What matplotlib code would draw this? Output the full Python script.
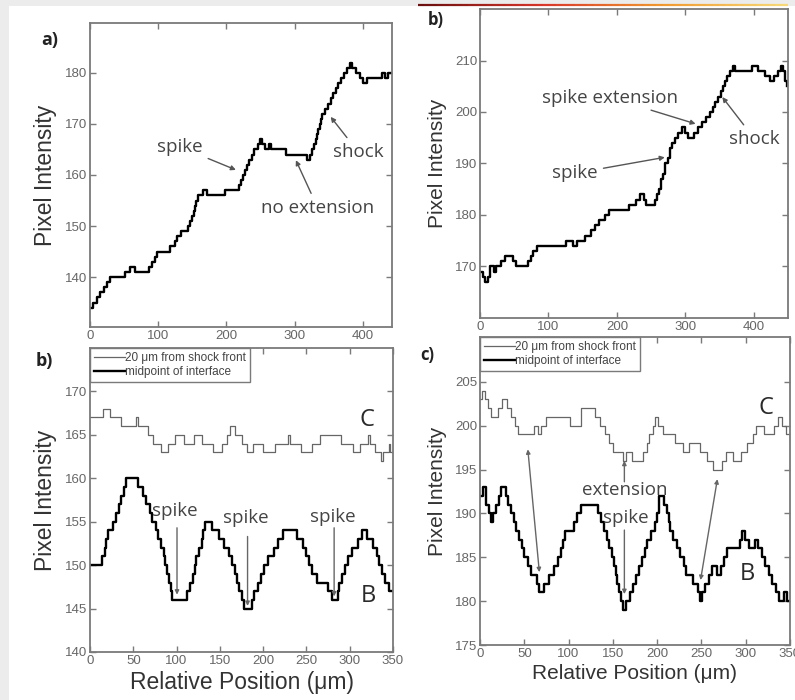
import numpy as np
import matplotlib
matplotlib.use("Agg")
from matplotlib import pyplot as plt
from matplotlib.patches import Rectangle
from matplotlib.collections import LineCollection
from matplotlib.colors import LinearSegmentedColormap

# ---- data ----
# a) profile without extension
a_x = [0, 5, 10, 15, 20, 25, 29, 51, 58, 66, 87, 91, 95, 99, 117, 124, 128, 134,
       144, 147, 150, 152, 154, 156, 158, 166, 172, 198, 218, 221, 224, 227, 230,
       233, 237, 241, 246, 250, 253, 257, 262, 266, 287, 318, 323, 326, 329, 331,
       333, 335, 337, 339, 341, 345, 349, 353, 357, 361, 364, 368, 372, 377, 381,
       385, 390, 396, 401, 406, 428, 433, 437, 441]
a_y = [134, 135, 136, 137, 138, 139, 140, 141, 142, 141, 142, 143, 144, 145, 146,
       147, 148, 149, 150, 151, 152, 153, 154, 155, 156, 157, 156, 157, 158, 159,
       160, 161, 162, 163, 164, 165, 166, 167, 166, 165, 166, 165, 164, 163, 164,
       165, 166, 167, 168, 169, 170, 171, 172, 173, 174, 175, 176, 177, 178, 179,
       180, 181, 182, 181, 180, 179, 178, 179, 180, 179, 180, 180]

# b) profile with spike extension
b_x = [0, 4, 7, 11, 14, 20, 24, 30, 36, 48, 52, 70, 74, 78, 84, 125, 136, 142,
       154, 162, 168, 174, 182, 188, 218, 228, 234, 239, 243, 255, 259, 262, 265,
       268, 271, 274, 277, 280, 285, 290, 295, 300, 304, 312, 318, 324, 330, 336,
       340, 344, 348, 352, 355, 358, 361, 365, 369, 373, 398, 406, 416, 423, 430,
       435, 440, 443, 446, 448]
b_y = [169, 168, 167, 168, 170, 169, 170, 171, 172, 171, 170, 171, 172, 173, 174,
       175, 174, 175, 176, 177, 178, 179, 180, 181, 182, 183, 184, 183, 182, 183,
       184, 185, 187, 188, 190, 191, 193, 194, 195, 196, 197, 196, 195, 196, 197,
       198, 199, 200, 201, 202, 203, 204, 205, 206, 207, 208, 209, 208, 209, 208,
       207, 206, 207, 208, 209, 208, 206, 205]

# b) lower: C = 20 um from shock front, B = midpoint of interface
lc_x = [0, 15, 23, 36, 53, 56, 67, 73, 82, 90, 98, 109, 120, 129, 142, 152, 158,
        162, 168, 175, 181, 188, 200, 214, 229, 231, 244, 256, 266, 290, 304, 312,
        321, 323, 329, 336, 338, 345, 347, 350]
lc_y = [167, 168, 167, 166, 167, 166, 165, 164, 163, 164, 165, 164, 165, 164, 163,
        164, 165, 166, 165, 164, 163, 164, 163, 164, 165, 164, 163, 164, 165, 164,
        163, 164, 165, 164, 163, 162, 163, 164, 163, 163]
lb_x = [0, 14, 17, 19, 21, 26, 30, 33, 36, 39, 42, 56, 61, 65, 69, 72, 76, 79, 82,
        85, 87, 89, 91, 93, 95, 112, 116, 119, 121, 123, 126, 129, 131, 133, 141,
        149, 155, 160, 164, 167, 170, 172, 175, 178, 187, 190, 194, 198, 201, 206,
        212, 217, 223, 239, 246, 250, 253, 257, 262, 275, 279, 286, 288, 291, 294,
        298, 303, 309, 314, 320, 327, 331, 334, 337, 341, 345, 350]
lb_y = [150, 151, 152, 153, 154, 155, 156, 157, 158, 159, 160, 159, 158, 157, 156,
        155, 154, 153, 152, 151, 150, 149, 148, 147, 146, 147, 148, 149, 150, 151,
        152, 153, 154, 155, 154, 153, 152, 151, 150, 149, 148, 147, 146, 145, 146,
        147, 148, 149, 150, 151, 152, 153, 154, 153, 152, 151, 150, 149, 148, 147,
        146, 147, 148, 149, 150, 151, 152, 153, 154, 153, 152, 151, 150, 149, 148,
        147, 147]

# c) lower right
rc_x = [0, 2, 6, 9, 12, 20, 25, 30, 35, 39, 43, 61, 65, 69, 75, 102, 114, 130,
        136, 141, 146, 150, 161, 165, 172, 184, 188, 191, 195, 198, 201, 207, 220,
        229, 236, 248, 256, 263, 273, 278, 286, 295, 302, 308, 312, 321, 332, 336,
        341, 346, 350]
rc_y = [203, 204, 203, 202, 201, 202, 203, 202, 201, 200, 199, 200, 199, 200, 201,
        200, 202, 201, 200, 199, 198, 197, 196, 197, 196, 197, 198, 199, 200, 201,
        200, 199, 198, 197, 198, 197, 196, 195, 196, 197, 196, 197, 198, 199, 200,
        199, 200, 201, 200, 199, 198]
rb_x = [0, 3, 7, 10, 12, 15, 18, 21, 24, 29, 32, 35, 38, 41, 44, 47, 50, 54, 58,
        64, 67, 72, 78, 84, 88, 91, 94, 96, 106, 109, 114, 133, 137, 140, 143, 146,
        149, 151, 153, 155, 157, 159, 162, 165, 169, 173, 176, 180, 183, 186, 189,
        193, 198, 200, 202, 208, 211, 213, 215, 218, 222, 226, 230, 233, 240, 246,
        248, 251, 254, 258, 262, 268, 272, 276, 279, 294, 296, 299, 304, 310, 314,
        318, 322, 326, 330, 334, 338, 343, 347, 350]
rb_y = [192, 193, 191, 190, 189, 190, 191, 192, 193, 192, 191, 190, 189, 188, 187,
        186, 185, 184, 183, 182, 181, 182, 183, 184, 185, 186, 187, 188, 189, 190,
        191, 190, 189, 188, 187, 186, 185, 184, 183, 182, 181, 180, 179, 180, 181,
        182, 183, 184, 185, 186, 187, 188, 189, 190, 192, 191, 190, 189, 188, 187,
        186, 185, 184, 183, 182, 181, 180, 181, 182, 183, 184, 183, 184, 185, 186,
        187, 188, 187, 186, 187, 186, 185, 184, 183, 182, 181, 180, 181, 180, 180]

legend_labels = ["20 \u03bcm from shock front", "midpoint of interface"]

# ---- style ----
LABEL_FONT = "Liberation Sans"
NOTE_FONT = "Open Sans"
GRAY = "#7a7a7a"
NOTE = "#444444"

fig = plt.figure(figsize=(7.95, 7.0), dpi=100, facecolor="#ececec")
fig.add_artist(Rectangle((9 / 795, 0), 1, 1 - 6 / 700, transform=fig.transFigure,
                         facecolor="white", edgecolor="none", zorder=-10))

# thin coloured strip at the top (scan artifact of the source)
gx = np.linspace(418 / 795, 788 / 795, 60)
gy = np.full_like(gx, 1 - 5 / 700)
pts = np.array([gx, gy]).T.reshape(-1, 1, 2)
segs = np.concatenate([pts[:-1], pts[1:]], axis=1)
cmap = LinearSegmentedColormap.from_list("strip", ["#6b1010", "#d8352a", "#f09a30", "#f6d878"])
strip = LineCollection(segs, colors=cmap(np.linspace(0, 1, len(segs))), linewidths=1.6,
                       transform=fig.transFigure)
fig.add_artist(strip)


def setup_axes(rect, xlim, ylim, xticks, yticks, label_size=15.5, xlabel=None):
    ax = fig.add_axes(rect)
    ax.set_xlim(*xlim)
    ax.set_ylim(*ylim)
    ax.set_xticks(xticks)
    ax.set_yticks(yticks)
    for sp in ax.spines.values():
        sp.set_color(GRAY)
        sp.set_linewidth(1.3)
    ax.tick_params(direction="in", length=4, width=1, color=GRAY, top=True, right=True,
                   labelsize=9.5, labelcolor="#666666", pad=2)
    for lab in ax.get_xticklabels() + ax.get_yticklabels():
        lab.set_family(LABEL_FONT)
    ax.set_ylabel("Pixel Intensity", fontsize=label_size, family=LABEL_FONT,
                  color="#333333", labelpad=6)
    if xlabel:
        ax.set_xlabel(xlabel, fontsize=label_size, family=LABEL_FONT, color="#333333",
                      labelpad=3)
    return ax


def note(ax, text, xytext, xy=None, both=False, size=13.5, color=NOTE):
    if xy is None:
        ax.text(*xytext, text, ha="center", va="center", fontsize=size,
                family=NOTE_FONT, color=color)
        return
    ax.annotate(text, xy=xy, xytext=xytext, ha="center", va="center", fontsize=size,
                family=NOTE_FONT, color=color,
                arrowprops=dict(arrowstyle="<|-|>" if both else "-|>", color="#555555",
                                lw=1.0, mutation_scale=7, shrinkA=2, shrinkB=0))


def arrow(ax, start, end, both=False):
    ax.annotate("", xy=end, xytext=start,
                arrowprops=dict(arrowstyle="<|-|>" if both else "-|>", color="#666666",
                                lw=1.0, mutation_scale=6, shrinkA=0, shrinkB=0))


# a) top left
ax1 = setup_axes([90 / 795, 1 - 327 / 700, 302 / 795, 304 / 700], (0, 443), (130.2, 189.8),
                 [0, 100, 200, 300, 400], [140, 150, 160, 170, 180], label_size=16.5)
ax1.plot(a_x, a_y, drawstyle="steps-post", color="black", lw=1.7)
note(ax1, "spike", (132, 165.5), (214, 161))
note(ax1, "no extension", (334, 153.6), (302, 162.9))
note(ax1, "shock", (393, 164.6), (353, 171.4))
fig.text(50 / 795, 1 - 40 / 700, "a)", fontsize=13, weight="bold", family=NOTE_FONT,
         color="#222222", ha="center", va="center")

# b) top right
ax2 = setup_axes([480 / 795, 1 - 318 / 700, 308 / 795, 309 / 700], (0, 450), (160, 220),
                 [0, 100, 200, 300, 400], [170, 180, 190, 200, 210], label_size=15)
ax2.plot(b_x, b_y, drawstyle="steps-post", color="black", lw=1.7)
note(ax2, "spike extension", (190, 202.8), (315, 197.7))
note(ax2, "spike", (139, 188.1), (270, 191.2))
note(ax2, "shock", (401, 194.8), (354, 202.9))
fig.text(436 / 795, 1 - 20 / 700, "b)", fontsize=12, weight="bold", family=NOTE_FONT,
         color="#222222", ha="center", va="center")

# b) bottom left
ax3 = setup_axes([90 / 795, 1 - 652 / 700, 303 / 795, 304 / 700], (0, 350), (140, 175),
                 [0, 50, 100, 150, 200, 250, 300, 350], [140, 145, 150, 155, 160, 165, 170],
                 label_size=16.5, xlabel="Relative Position (\u03bcm)")
ax3.plot(lc_x, lc_y, drawstyle="steps-post", color="#666666", lw=0.9, label=legend_labels[0])
ax3.plot(lb_x, lb_y, drawstyle="steps-post", color="black", lw=1.7, label=legend_labels[1])
for tx, ty, lx, ltop, lbot in [(97.5, 156.2, 100.5, 154.3, 146.6),
                               (180, 155.4, 182, 153.3, 145.3),
                               (280, 155.6, 282, 154.3, 146.4)]:
    note(ax3, "spike", (tx, ty))
    arrow(ax3, (lx, ltop), (lx, lbot))
note(ax3, "C", (320, 166.7), size=17, color="#2a2a2a")
note(ax3, "B", (322, 146.4), size=17, color="#2a2a2a")
fig.text(44 / 795, 1 - 361 / 700, "b)", fontsize=13, weight="bold", family=NOTE_FONT,
         color="#222222", ha="center", va="center")

# c) bottom right
ax4 = setup_axes([480 / 795, 1 - 645 / 700, 310 / 795, 308 / 700], (0, 350), (175, 210.1),
                 [0, 50, 100, 150, 200, 250, 300, 350], [175, 180, 185, 190, 195, 200, 205],
                 label_size=15, xlabel="Relative Position (\u03bcm)")
ax4.plot(rc_x, rc_y, drawstyle="steps-post", color="#666666", lw=0.9, label=legend_labels[0])
ax4.plot(rb_x, rb_y, drawstyle="steps-post", color="black", lw=1.7, label=legend_labels[1])
arrow(ax4, (54, 197.3), (67, 183.3), both=True)
arrow(ax4, (163, 193.6), (163, 196.0))
arrow(ax4, (163, 188.1), (163, 180.8))
arrow(ax4, (268, 193.9), (249, 182.4), both=True)
note(ax4, "extension", (163, 192.7))
note(ax4, "spike", (165, 189.5))
note(ax4, "C", (322.5, 202.0), size=17, color="#2a2a2a")
note(ax4, "B", (302, 183.1), size=17, color="#2a2a2a")
fig.text(427 / 795, 1 - 355 / 700, "c)", fontsize=12, weight="bold", family=NOTE_FONT,
         color="#222222", ha="center", va="center")

for ax in (ax3, ax4):
    leg = ax.legend(loc="upper left", bbox_to_anchor=(0, 1), borderaxespad=0.0,
                    fancybox=False, framealpha=1, edgecolor=GRAY, handlelength=2.6,
                    handletextpad=0.0, borderpad=0.35, labelspacing=0.15,
                    prop=dict(family=LABEL_FONT, size=8.5))
    leg.get_frame().set_linewidth(1.0)
    for t in leg.get_texts():
        t.set_color("#444444")

fig.savefig("out.png", dpi=100, facecolor=fig.get_facecolor())
